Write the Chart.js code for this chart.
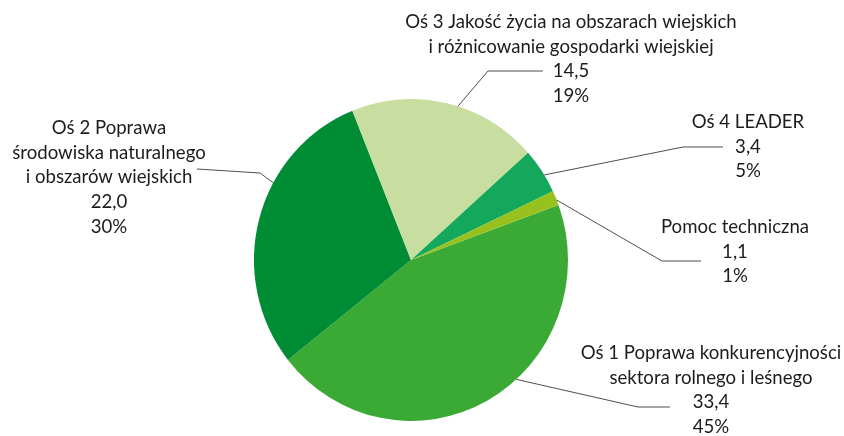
<!DOCTYPE html>
<html>
<head>
<meta charset="utf-8">
<script src="https://cdn.jsdelivr.net/npm/chart.js@4"></script>
<style>
  html, body { margin: 0; padding: 0; background: #fff; }
  #pie { display: block; }
</style>
</head>
<body>
<canvas id="pie" width="844" height="436"></canvas>
<script>
// mln euro per axis
const categories = [
    ['Oś 1 Poprawa konkurencyjności', 'sektora rolnego i leśnego'],
    ['Oś 2 Poprawa', 'środowiska naturalnego', 'i obszarów wiejskich'],
    ['Oś 3 Jakość życia na obszarach wiejskich', 'i różnicowanie gospodarki wiejskiej'],
    ['Oś 4 LEADER'],
    ['Pomoc techniczna']
];
const values = [33.4, 22.0, 14.5, 3.4, 1.1];
const colors = ['#3aaa35', '#008c35', '#c8dda0', '#13a85c', '#96c11f'];

// label block placement: text centre x, first line y, leader end, leader elbow,
// and where along the slice the leader touches the rim (0..1)
const labelLayout = [
    { x: 711, y: 353, end: [670, 407], elbow: [638, 407], at: 0.42 },
    { x: 109, y: 128, end: [197, 169], elbow: [260, 173], at: 0.63 },
    { x: 571, y: 22, end: [543, 71], elbow: [488, 71], at: 0.56 },
    { x: 748, y: 122, end: [723, 147], elbow: [683, 147], at: 0.6 },
    { x: 735, y: 227, end: [701, 261], elbow: [662, 261], at: 0.65 }
];

const squash = 1.025; // pie is slightly taller than wide
const lineH = 24.7;

const total = values.reduce((a, b) => a + b, 0);
const fmt = v => v.toFixed(1).replace('.', ',');

const ovalPie = {
    id: 'ovalPie',
    beforeDatasetsDraw(chart) {
        const arc = chart.getDatasetMeta(0).data[0];
        const ctx = chart.ctx;
        ctx.save();
        ctx.translate(arc.x, arc.y);
        ctx.scale(1, squash);
        ctx.translate(-arc.x, -arc.y);
    },
    afterDatasetsDraw(chart) {
        chart.ctx.restore();
    }
};

const pieLabels = {
    id: 'pieLabels',
    afterDraw(chart) {
        const ctx = chart.ctx;
        const arcs = chart.getDatasetMeta(0).data;
        ctx.save();
        ctx.font = '18.6px Lato';
        ctx.fillStyle = '#1e1b1c';
        ctx.textAlign = 'center';
        ctx.textBaseline = 'middle';
        arcs.forEach((arc, i) => {
            const lay = labelLayout[i];
            const lines = categories[i].concat([fmt(values[i]), Math.round(values[i] / total * 100) + '%']);
            lines.forEach((t, k) => ctx.fillText(t, lay.x, lay.y + k * lineH));

            const a = arc.startAngle + lay.at * (arc.endAngle - arc.startAngle);
            const px = arc.x + arc.outerRadius * Math.cos(a);
            const py = arc.y + arc.outerRadius * Math.sin(a) * squash;
            ctx.beginPath();
            ctx.strokeStyle = '#231f20';
            ctx.lineWidth = 0.8;
            ctx.moveTo(lay.end[0], lay.end[1]);
            ctx.lineTo(lay.elbow[0], lay.elbow[1]);
            ctx.lineTo(px, py);
            ctx.stroke();
        });
        ctx.restore();
    }
};

new Chart(document.getElementById('pie'), {
    type: 'pie',
    data: {
        labels: categories.map(c => c.join(' ')),
        datasets: [{
            data: values,
            backgroundColor: colors,
            borderWidth: 0
        }]
    },
    options: {
        responsive: false,
        animation: false,
        rotation: 70,
        layout: { padding: { top: 103, bottom: 19, left: 254, right: 276 } },
        plugins: {
            legend: { display: false },
            tooltip: { enabled: false }
        }
    },
    plugins: [ovalPie, pieLabels]
});
</script>
</body>
</html>
